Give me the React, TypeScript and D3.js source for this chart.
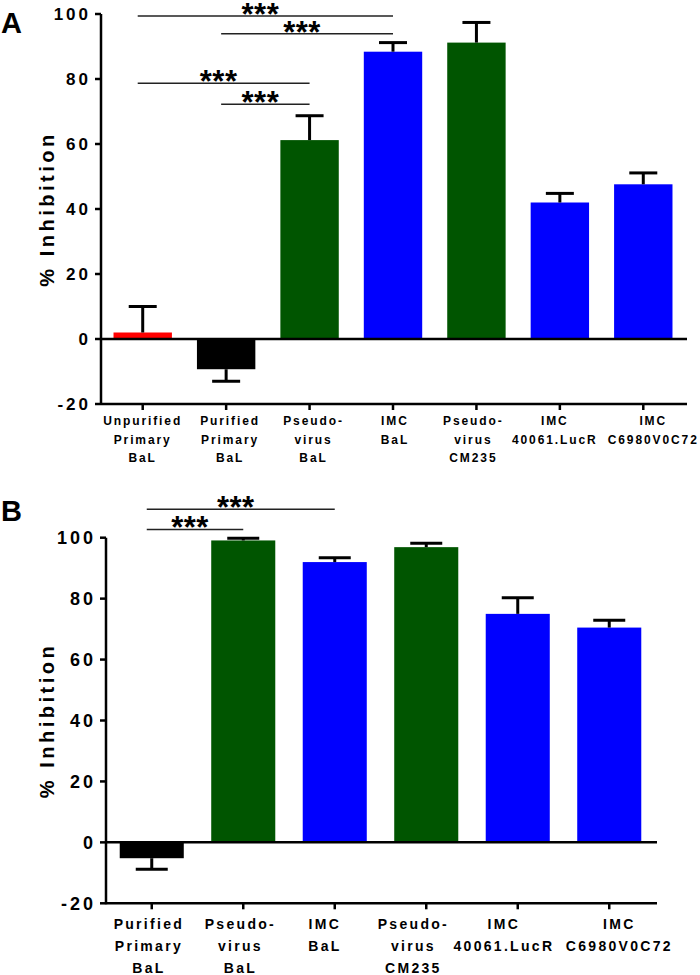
import React from "react";
import * as d3 from "d3";

const labelsA: string[][] = [
  ["Unpurified", "Primary", "BaL"],
  ["Purified", "Primary", "BaL"],
  ["Pseudo-", "virus", "BaL"],
  ["IMC", "BaL"],
  ["Pseudo-", "virus", "CM235"],
  ["IMC", "40061.LucR"],
  ["IMC", "C6980V0C72"],
];
const valuesA = [2, -9.3, 61.2, 88.4, 91.2, 42.0, 47.6];
const errorsA = [8, 3.7, 7.5, 2.8, 6.2, 2.8, 3.5];
const colorsA = ["#ff0000", "#000000", "#005500", "#0000ff", "#005500", "#0000ff", "#0000ff"];
const sigA: [number, number, number][] = [
  [0, 3, 99.4],
  [1, 3, 93.9],
  [0, 2, 78.7],
  [1, 2, 72.2],
];

const labelsB: string[][] = [
  ["Purified", "Primary", "BaL"],
  ["Pseudo-", "virus", "BaL"],
  ["IMC", "BaL"],
  ["Pseudo-", "virus", "CM235"],
  ["IMC", "40061.LucR"],
  ["IMC", "C6980V0C72"],
];
const valuesB = [-5.2, 99.1, 92.0, 96.9, 75.0, 70.5];
const errorsB = [3.6, 0.7, 1.4, 1.3, 5.3, 2.4];
const colorsB = ["#000000", "#005500", "#0000ff", "#005500", "#0000ff", "#0000ff"];
const sigB: [number, number, number][] = [
  [0, 2, 109.3],
  [0, 1, 102.7],
];

const yTicks = [-20, 0, 20, 40, 60, 80, 100];
const FONT = "'Liberation Sans', Arial, Helvetica, sans-serif";

type PanelProps = {
  letter: string;
  letterY: number;
  labels: string[][];
  values: number[];
  errors: number[];
  colors: string[];
  sig: [number, number, number][];
  x0: number;
  x1: number;
  yTop: number;
  yBottom: number;
  capW: number;
  tickFont: number;
  labelFont: number;
  labelSpacing: number;
  labelBase: number;
  labelStep: number;
  labelShift: number[];
};

function Panel(p: PanelProps) {
  const n = p.labels.length;
  const x = d3
    .scaleBand<number>()
    .domain(d3.range(n))
    .range([p.x0, p.x1])
    .paddingInner(0.3)
    .paddingOuter(0.15);
  const y = d3.scaleLinear().domain([-20, 100]).range([p.yBottom, p.yTop]);
  const bw = x.bandwidth();
  const cx = (i: number) => (x(i) as number) + bw / 2;
  const axisEnd = p.x1 + 2;
  return (
    <g fontFamily={FONT} fontWeight="bold">
      <text x={1} y={p.letterY} fontSize={29} fill="#000">
        {p.letter}
      </text>
      {/* bars */}
      {p.values.map((v, i) => (
        <rect
          key={"b" + i}
          x={x(i)}
          width={bw}
          y={Math.min(y(v), y(0))}
          height={Math.abs(y(v) - y(0))}
          fill={p.colors[i]}
        />
      ))}
      {/* error bars */}
      {p.values.map((v, i) => {
        const e = v >= 0 ? v + p.errors[i] : v - p.errors[i];
        return (
          <g key={"e" + i} stroke="#000" strokeWidth={3}>
            <line x1={cx(i)} x2={cx(i)} y1={y(v)} y2={y(e)} />
            <line x1={cx(i) - p.capW / 2} x2={cx(i) + p.capW / 2} y1={y(e)} y2={y(e)} />
          </g>
        );
      })}
      {/* zero line */}
      <line x1={p.x0} x2={axisEnd} y1={y(0)} y2={y(0)} stroke="#000" strokeWidth={2.5} />
      {/* y axis */}
      <line x1={p.x0} x2={p.x0} y1={y(-20) + 1} y2={y(100)} stroke="#000" strokeWidth={2.5} />
      {yTicks.map((t) => (
        <g key={"yt" + t}>
          <line x1={p.x0 - 6} x2={p.x0} y1={y(t)} y2={y(t)} stroke="#000" strokeWidth={2.5} />
          <text
            x={p.x0 - 10}
            y={y(t)}
            dy="0.36em"
            textAnchor="end"
            fontSize={p.tickFont}
            letterSpacing={3}
            fill="#000"
          >
            {t}
          </text>
        </g>
      ))}
      {/* x axis */}
      <line x1={p.x0} x2={axisEnd} y1={y(-20)} y2={y(-20)} stroke="#000" strokeWidth={2.5} />
      {p.labels.map((lines, i) => (
        <g key={"xl" + i}>
          <line x1={cx(i)} x2={cx(i)} y1={y(-20)} y2={y(-20) + 6} stroke="#000" strokeWidth={2.5} />
          {lines.map((s, j) => (
            <text
              key={j}
              x={cx(i) + p.labelSpacing / 2 + p.labelShift[i]}
              y={p.labelBase + j * p.labelStep}
              textAnchor="middle"
              fontSize={p.labelFont}
              letterSpacing={p.labelSpacing}
              fill="#000"
            >
              {s}
            </text>
          ))}
        </g>
      ))}
      {/* y title */}
      <text
        transform={`translate(54,${(y(-20) + y(100)) / 2}) rotate(-90)`}
        textAnchor="middle"
        fontSize={20}
        letterSpacing={3.5}
        fill="#000"
      >
        % Inhibition
      </text>
      {/* significance */}
      {p.sig.map(([a, b, lv], k) => {
        const xa = cx(a) - 5;
        const xb = cx(b);
        return (
          <g key={"s" + k}>
            <line x1={xa} x2={xb} y1={y(lv)} y2={y(lv)} stroke="#222" strokeWidth={1.5} />
            <text
              x={(xa + xb) / 2 - 5}
              y={y(lv) + 9}
              textAnchor="middle"
              fontSize={31}
              letterSpacing={0.5}
              fontWeight="bold"
              fill="#000"
            >
              ***
            </text>
          </g>
        );
      })}
    </g>
  );
}

export default function App() {
  return (
    <svg
      width={700}
      height={975}
      style={{ position: "absolute", left: 0, top: 0, background: "#fff" }}
    >
      <rect width={700} height={975} fill="#fff" />
      <Panel
        letter="A"
        letterY={33}
        labels={labelsA}
        values={valuesA}
        errors={errorsA}
        colors={colorsA}
        sig={sigA}
        x0={101}
        x1={685}
        yTop={14}
        yBottom={404}
        capW={28}
        tickFont={17}
        labelFont={12}
        labelSpacing={1.9}
        labelBase={425}
        labelStep={18.5}
        labelShift={[-1, 3, 3, 1, -4, -6, 9]}
      />
      <Panel
        letter="B"
        letterY={521}
        labels={labelsB}
        values={valuesB}
        errors={errorsB}
        colors={colorsB}
        sig={sigB}
        x0={106}
        x1={655}
        yTop={537.7}
        yBottom={903.3}
        capW={32}
        tickFont={18}
        labelFont={14}
        labelSpacing={2.3}
        labelBase={929}
        labelStep={22}
        labelShift={[-4, -4, -11, -14, -15, 9]}
      />
    </svg>
  );
}
